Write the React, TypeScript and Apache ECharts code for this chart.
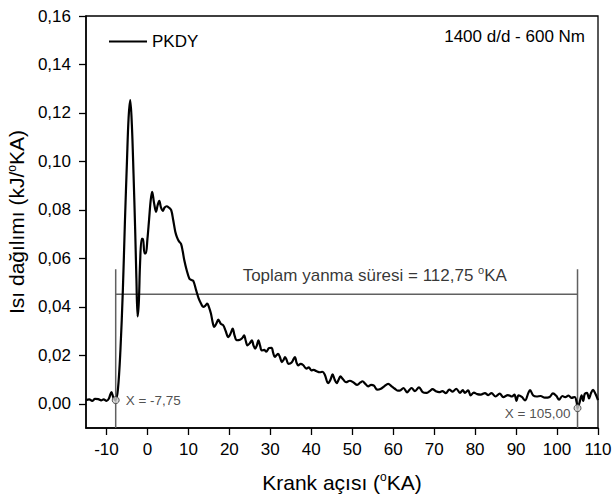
import React, { useEffect, useRef } from "react";
import * as echarts from "echarts";

// Crank angle (°KA) and heat release rate (kJ/°KA)
const crankAngle: number[] = [
  -15, -14.2, -13.5, -12.8, -12, -11.3, -10.7, -10, -9.4, -8.8, -8.3, -7.75,
  -7.2, -6.6, -6.0, -5.5, -5.0, -4.6, -4.2, -3.8, -3.4, -3.0, -2.7, -2.4, -2.1,
  -1.8, -1.4, -1.1, -0.7, -0.4, 0.0, 0.4, 0.8, 1.15, 1.6, 2.1, 2.5, 2.9, 3.3,
  3.75, 4.2, 4.7, 5.2, 5.8, 6.3, 6.8, 7.2, 7.7, 8.2, 8.6, 9.0, 9.6, 10.25,
  10.8, 11.2, 11.9, 12.5, 13.1, 13.6, 14.1, 14.6, 15.0, 15.5, 16.0, 16.3, 16.8,
  17.3, 17.9, 18.5, 19.1, 19.75, 20.3, 20.8, 21.3, 21.8, 22.6, 23.1, 23.6,
  24.0, 24.4, 25.0, 25.5, 25.9, 26.3, 26.7, 27.1, 27.5, 27.9, 28.5, 29.0,
  29.7, 30.3, 30.7, 31.1, 31.5, 31.9, 32.4, 32.8, 33.2, 33.6, 34.0, 34.4,
  35.2, 36.0, 36.4, 36.8, 37.4, 38.0, 38.8, 39.4, 40.0, 40.6, 41.2, 42.1,
  42.7, 43.3, 44.1, 44.7, 45.2, 45.7, 46.2, 46.7, 47.1, 47.8, 48.5, 49.4,
  50.3, 51.2, 52.0, 52.5, 53.2, 53.9, 54.6, 55.3, 56.1, 57.0, 57.8, 58.8,
  59.6, 60.4, 61.1, 61.6, 62.5, 63.4, 64.0, 64.5, 65.3, 66.3, 67.2, 68.1,
  68.9, 69.6, 70.4, 71.2, 72.0, 72.85, 73.7, 74.5, 75.4, 76.3, 77.0, 77.5,
  78.3, 78.9, 79.7, 80.5, 81.4, 82.4, 83.2, 84.0, 85.0, 86.0, 86.9, 88.0,
  89.0, 89.6, 90.1, 90.6, 91.4, 92.2, 93.0, 93.4, 94.2, 95.0, 96.0, 97.0,
  98.2, 99.0, 99.8, 100.5, 101.3, 102.0, 102.8, 103.5, 104.3, 104.8, 105.0,
  105.5, 106.0, 106.4, 106.75, 107.3, 107.8, 108.3, 108.8, 109.4, 110,
];
const heatRelease: number[] = [
  0.0015, 0.0018, 0.0012, 0.002, 0.0019, 0.0014, 0.0018, 0.0012, 0.0022,
  0.0048, 0.0025, 0.0015, 0.006, 0.022, 0.047, 0.075, 0.1, 0.118, 0.1253,
  0.115, 0.095, 0.072, 0.052, 0.036, 0.042, 0.058, 0.068, 0.068, 0.062, 0.062,
  0.068, 0.076, 0.084, 0.0874, 0.083, 0.0792, 0.082, 0.0837, 0.081, 0.0796,
  0.081, 0.0815, 0.081, 0.0799, 0.0757, 0.071, 0.0688, 0.067, 0.066, 0.063,
  0.0592, 0.055, 0.0516, 0.051, 0.0507, 0.0468, 0.0435, 0.0413, 0.04, 0.0404,
  0.0413, 0.04, 0.0372, 0.033, 0.0317, 0.033, 0.0347, 0.033, 0.0324, 0.03,
  0.0275, 0.029, 0.031, 0.028, 0.0262, 0.0264, 0.027, 0.0282, 0.026, 0.0241,
  0.025, 0.0262, 0.024, 0.0227, 0.024, 0.0262, 0.024, 0.022, 0.0222, 0.0215,
  0.023, 0.0231, 0.021, 0.0193, 0.02, 0.0206, 0.019, 0.0172, 0.018, 0.0193,
  0.018, 0.0165, 0.017, 0.0193, 0.017, 0.0158, 0.0165, 0.016, 0.0145, 0.015,
  0.0138, 0.014, 0.0135, 0.013, 0.0132, 0.012, 0.0085, 0.01, 0.0121, 0.01,
  0.0085, 0.01, 0.0113, 0.01, 0.0089, 0.0095, 0.0088, 0.0078, 0.0088, 0.0093,
  0.0082, 0.0072, 0.0078, 0.0075, 0.0058, 0.0062, 0.0072, 0.0082, 0.0072,
  0.0062, 0.0054, 0.0054, 0.0065, 0.0047, 0.0058, 0.0065, 0.0052, 0.0068,
  0.0048, 0.0045, 0.0052, 0.006, 0.0052, 0.0048, 0.0052, 0.0044, 0.0058,
  0.005, 0.0062, 0.0045, 0.0056, 0.0045, 0.0055, 0.0035, 0.0046, 0.004,
  0.0038, 0.0044, 0.0036, 0.0044, 0.003, 0.0042, 0.0027, 0.0036, 0.003,
  0.0038, 0.0012, 0.0035, 0.0028, 0.0014, 0.0045, 0.0056, 0.0034, 0.003,
  0.0032, 0.0025, 0.0028, 0.0043, 0.0033, 0.0017, 0.0032, 0.0027, 0.0034,
  0.0024, 0.0028, 0.0005, -0.0018, 0.0005, 0.0035, 0.0012, 0.004, 0.0045,
  0.0022, 0.0044, 0.0057, 0.004, 0.0015,
];

const xTicks: number[] = [-10, 0, 10, 20, 30, 40, 50, 60, 70, 80, 90, 100, 110];
const yTicks: number[] = [0, 0.02, 0.04, 0.06, 0.08, 0.1, 0.12, 0.14, 0.16];

// Combustion start / end markers and duration bracket
const startAngle = -7.75;
const endAngle = 105.0;
const startValue = 0.0015;
const endValue = -0.0018;
const bracketLevel = 0.0452;
const bracketTop = 0.0555;
const axisBottom = -0.01;
const durationLabelAngle = 55.5;

const FONT = "'Liberation Sans', Arial, Helvetica, sans-serif";
const fmtComma = (v: number, d: number) => v.toFixed(d).replace(".", ",");

export default function App() {
  const ref = useRef<HTMLDivElement>(null);
  useEffect(() => {
    if (!ref.current) return;
    const chart = echarts.init(ref.current, undefined, { renderer: "svg" });
    const curve = crankAngle.map((x, i) => [x, heatRelease[i]]);
    const grey = "#606060";
    const nameSup = { fontSize: 12, fontFamily: FONT, color: "#000", padding: [0, 0, 10, 0] };
    const labelSup = { fontSize: 11, fontFamily: FONT, color: "#000", padding: [0, 0, 12, 0] };
    chart.setOption({
      animation: false,
      backgroundColor: "#fff",
      grid: {
        left: 86,
        right: 16,
        top: 16,
        bottom: 72,
        show: true,
        borderColor: "#000",
        borderWidth: 1.3,
        containLabel: false,
        outerBoundsMode: "none",
      },
      legend: {
        data: ["PKDY"],
        left: 104,
        top: 28,
        icon: "rect",
        itemWidth: 38,
        itemHeight: 2.2,
        itemGap: 6,
        textStyle: { fontSize: 17, color: "#000", fontFamily: FONT },
      },
      graphic: [
        {
          type: "text",
          right: 29,
          top: 28,
          style: {
            text: "1400 d/d - 600 Nm",
            fontSize: 17,
            fontFamily: FONT,
            fill: "#000",
          },
        },
      ],
      xAxis: {
        type: "value",
        min: -15,
        max: 110,
        name: "Krank açısı ({sup|o}KA)",
        nameLocation: "middle",
        nameGap: 43,
        nameTextStyle: {
          fontSize: 21,
          fontFamily: FONT,
          color: "#000",
          rich: { sup: nameSup },
        },
        axisLine: { onZero: false, lineStyle: { color: "#000", width: 1.5 } },
        axisTick: {
          show: true,
          inside: false,
          length: 7,
          customValues: xTicks,
          lineStyle: { color: "#000", width: 1.3 },
        },
        axisLabel: {
          customValues: xTicks,
          margin: 13,
          fontSize: 17,
          fontFamily: FONT,
          color: "#000",
          formatter: (v: number) => String(v),
        },
        splitLine: { show: false },
      },
      yAxis: {
        type: "value",
        min: axisBottom,
        max: 0.16,
        name: "Isı dağılımı (kJ/{sup|o}KA)",
        nameLocation: "middle",
        nameGap: 45,
        nameTextStyle: {
          fontSize: 21,
          fontFamily: FONT,
          color: "#000",
          rich: { sup: nameSup },
        },
        axisLine: { show: true, onZero: false, lineStyle: { color: "#000", width: 1.5 } },
        axisTick: {
          show: true,
          inside: false,
          length: 7,
          customValues: yTicks,
          lineStyle: { color: "#000", width: 1.3 },
        },
        axisLabel: {
          customValues: yTicks,
          margin: 15,
          fontSize: 17,
          fontFamily: FONT,
          color: "#000",
          formatter: (v: number) => fmtComma(v, 2),
        },
        splitLine: { show: false },
      },
      series: [
        {
          name: "PKDY",
          type: "line",
          data: curve,
          symbol: "none",
          smooth: 0.35,
          lineStyle: { color: "#000", width: 2.2 },
          itemStyle: { color: "#000" },
          z: 5,
        },
        {
          name: "start",
          type: "line",
          data: [
            [startAngle, bracketTop],
            [startAngle, axisBottom],
          ],
          symbol: "none",
          lineStyle: { color: grey, width: 1.5 },
          z: 3,
        },
        {
          name: "end",
          type: "line",
          data: [
            [endAngle, bracketTop],
            [endAngle, axisBottom],
          ],
          symbol: "none",
          lineStyle: { color: grey, width: 1.5 },
          z: 3,
        },
        {
          name: "duration",
          type: "line",
          data: [
            [startAngle, bracketLevel],
            [endAngle, bracketLevel],
          ],
          symbol: "none",
          lineStyle: { color: grey, width: 1.5 },
          z: 3,
        },
        {
          name: "durationLabel",
          type: "scatter",
          symbolSize: 0,
          data: [[durationLabelAngle, bracketLevel]],
          label: {
            show: true,
            position: "top",
            distance: 7,
            formatter: "Toplam yanma süresi = 112,75 {sup|o}KA",
            fontSize: 17,
            fontFamily: FONT,
            color: "#000",
            rich: { sup: labelSup },
          },
          z: 4,
        },
        {
          name: "markers",
          type: "scatter",
          symbol: "circle",
          symbolSize: 7,
          itemStyle: { color: "#d0d0d0", borderColor: "#333", borderWidth: 1 },
          data: [
            {
              value: [startAngle, startValue],
              label: {
                show: true,
                position: "right",
                distance: 6,
                formatter: "X = " + fmtComma(startAngle, 2),
              },
            },
            {
              value: [endAngle, endValue],
              label: {
                show: true,
                position: "left",
                distance: 3,
                offset: [0, 5],
                formatter: "X = " + fmtComma(endAngle, 2),
              },
            },
          ],
          label: { fontSize: 13.5, fontFamily: FONT, color: "#222" },
          z: 6,
        },
      ],
    });
    return () => chart.dispose();
  }, []);
  return (
    <div
      ref={ref}
      style={{ position: "absolute", left: 0, top: 0, width: 614, height: 500 }}
    />
  );
}
